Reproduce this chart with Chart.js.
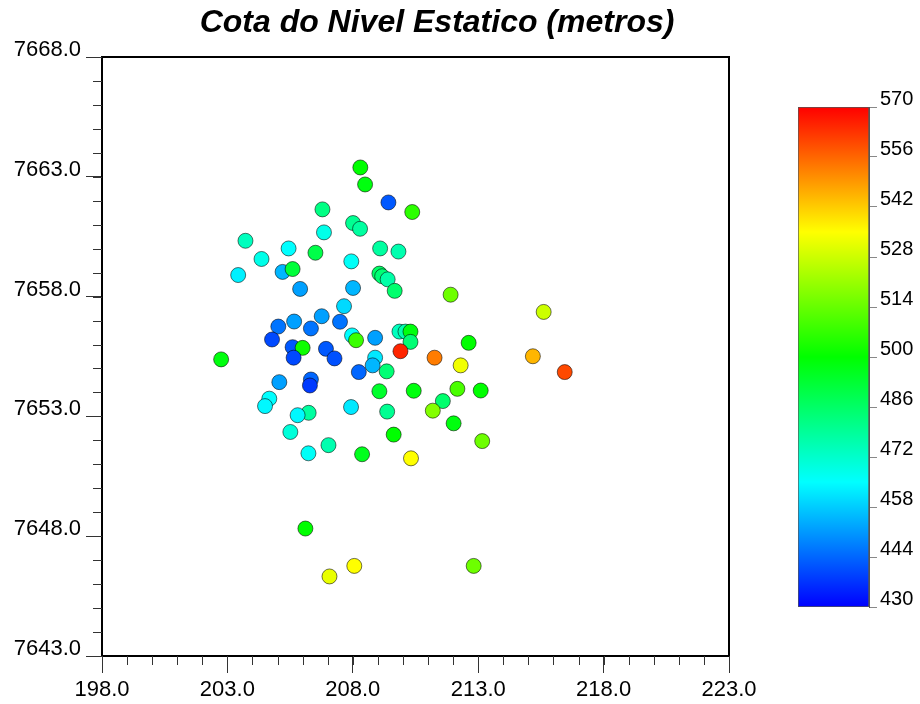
<!DOCTYPE html>
<html>
<head>
<meta charset="utf-8">
<script src="https://cdn.jsdelivr.net/npm/chart.js@4.4.1/dist/chart.umd.min.js"></script>
<style>
  html, body { margin: 0; padding: 0; background: #fff; }
  #wrap { position: relative; width: 920px; height: 704px; }
  #mapChart { position: absolute; left: 0; top: 0; }
  #scaleBar { position: absolute; left: 780px; top: 80px; }
</style>
</head>
<body>
<div id="wrap">
  <canvas id="mapChart" width="920" height="704"></canvas>
  <canvas id="scaleBar" width="140" height="560"></canvas>
</div>
<script>
// tick labels
var xTicks = [198, 203, 208, 213, 218, 223];
var yTicks = [7643, 7648, 7653, 7658, 7663, 7668];
var levelTicks = [430, 444, 458, 472, 486, 500, 514, 528, 542, 556, 570];

// wells: easting, northing (km) and water level (m)
var wellX = [208.30, 208.49, 209.42, 210.37, 206.79, 208.01, 208.29, 206.85, 203.72, 205.44,
             206.51, 204.36, 207.94, 209.09, 209.82, 203.43, 205.20, 205.60, 209.06, 209.17,
             209.39, 209.67, 205.90, 208.01, 211.90, 215.61, 207.65, 206.76, 207.49, 205.03,
             205.66, 206.33, 204.78, 207.97, 208.13, 208.89, 209.86, 210.10, 210.30, 210.30,
             205.60, 206.00, 205.64, 206.93, 207.27, 209.90, 211.26, 212.62, 212.30, 215.18,
             216.45, 202.75, 208.89, 208.79, 208.24, 209.35, 205.07, 206.33, 206.29, 209.06,
             210.43, 212.17, 213.10, 211.59, 204.67, 204.50, 211.19, 209.37, 207.93, 206.24,
             205.80, 212.02, 205.51, 209.63, 213.16, 207.03, 206.23, 208.37, 210.32, 206.11,
             208.06, 207.07, 212.82];
var wellY = [7663.39, 7662.68, 7661.93, 7661.53, 7661.64, 7661.07, 7660.83, 7660.68, 7660.33, 7660.01,
             7659.83, 7659.57, 7659.47, 7660.01, 7659.88, 7658.90, 7659.03, 7659.15, 7658.96, 7658.85,
             7658.72, 7658.24, 7658.32, 7658.36, 7658.08, 7657.36, 7657.60, 7657.18, 7656.95, 7656.75,
             7656.96, 7656.67, 7656.21, 7656.38, 7656.18, 7656.28, 7656.54, 7656.54, 7656.54, 7656.11,
             7655.89, 7655.86, 7655.45, 7655.82, 7655.42, 7655.72, 7655.45, 7656.07, 7655.13, 7655.51,
             7654.85, 7655.38, 7655.45, 7655.13, 7654.85, 7654.88, 7654.43, 7654.54, 7654.29, 7654.05,
             7654.07, 7654.15, 7654.08, 7653.64, 7653.74, 7653.43, 7653.24, 7653.20, 7653.39, 7653.15,
             7653.05, 7652.71, 7652.35, 7652.24, 7651.97, 7651.80, 7651.46, 7651.42, 7651.25, 7648.32,
             7646.76, 7646.32, 7646.76];
var wellLevel = [500, 498, 442, 506, 482, 480, 478, 468, 474, 465,
                 490, 468, 466, 478, 476, 463, 455, 492, 486, 484,
                 477, 485, 452, 455, 515, 528, 460, 452, 446, 446,
                 452, 446, 440, 465, 508, 452, 474, 476, 498, 484,
                 442, 502, 440, 442, 441, 565, 553, 500, 533, 545,
                 560, 498, 462, 455, 444, 484, 452, 444, 438, 494,
                 498, 510, 500, 485, 465, 464, 518, 480, 462, 478,
                 464, 498, 470, 500, 515, 476, 466, 496, 535, 500,
                 535, 532, 515];

var levelMin = levelTicks[0], levelMax = levelTicks[levelTicks.length - 1];

// rainbow: blue at the bottom of the scale, red at the top
function levelColor(v) {
  var t = (v - levelMin) / (levelMax - levelMin);
  t = Math.max(0, Math.min(1, t));
  return 'hsl(' + (240 * (1 - t)).toFixed(1) + ',100%,50%)';
}

Chart.defaults.font.family = "'Liberation Sans', Arial, sans-serif";
Chart.defaults.color = '#000';

// short ticks every 1 unit, the long labelled ones come from the axes
var minorTicks = {
  id: 'minorTicks',
  afterDraw: function (chart) {
    var ctx = chart.ctx, x = chart.scales.x, y = chart.scales.y, area = chart.chartArea;
    ctx.save();
    ctx.strokeStyle = '#333';
    ctx.lineWidth = 1;
    ctx.beginPath();
    for (var v = x.min; v <= x.max; v++) {
      var px = Math.round(x.getPixelForValue(v)) + 0.5;
      ctx.moveTo(px, area.bottom);
      ctx.lineTo(px, area.bottom + 9);
    }
    for (var w = y.min; w <= y.max; w++) {
      var py = Math.round(y.getPixelForValue(w)) + 0.5;
      ctx.moveTo(area.left, py);
      ctx.lineTo(area.left - 9, py);
    }
    ctx.stroke();
    ctx.restore();
  }
};

var points = wellX.map(function (x, i) { return { x: x, y: wellY[i] }; });

new Chart(document.getElementById('mapChart'), {
  type: 'scatter',
  data: {
    datasets: [{
      data: points,
      pointRadius: 7.5,
      pointBackgroundColor: wellLevel.map(levelColor),
      pointBorderColor: 'rgba(0,0,0,0.55)',
      pointBorderWidth: 1
    }]
  },
  options: {
    responsive: false,
    animation: false,
    layout: { padding: { left: 0, right: 46, top: 0, bottom: 0 } },
    plugins: {
      legend: { display: false },
      tooltip: { enabled: false },
      title: {
        display: true,
        text: 'Cota do Nivel Estatico (metros)',
        font: { size: 32, weight: 'bold', style: 'italic' },
        color: '#000',
        padding: { top: 4, bottom: 0 }
      }
    },
    scales: {
      x: {
        type: 'linear', position: 'bottom', min: 198, max: 223,
        afterBuildTicks: function (s) { s.ticks = xTicks.map(function (v) { return { value: v }; }); },
        afterFit: function (s) { s.height = 48; },
        ticks: { callback: function (v) { return v.toFixed(1); }, font: { size: 22 }, color: '#000', padding: 4, maxRotation: 0, autoSkip: false },
        grid: { drawOnChartArea: false, tickLength: 17, tickColor: '#333' },
        border: { color: '#000', width: 2 }
      },
      y: {
        type: 'linear', position: 'left', min: 7643, max: 7668,
        afterBuildTicks: function (s) { s.ticks = yTicks.map(function (v) { return { value: v }; }); },
        afterFit: function (s) { s.width = 102; },
        ticks: { callback: function (v) { return v.toFixed(1); }, font: { size: 22 }, color: '#000', padding: 5, labelOffset: -7, autoSkip: false },
        grid: { drawOnChartArea: false, tickLength: 16, tickColor: '#333' },
        border: { color: '#000', width: 2 }
      },
      xTop: {
        type: 'linear', axis: 'x', position: 'top', min: 198, max: 223,
        afterFit: function (s) { s.height = 14.6; },
        ticks: { display: false },
        grid: { drawOnChartArea: false, drawTicks: false },
        border: { color: '#000', width: 2 }
      },
      yRight: {
        type: 'linear', axis: 'y', position: 'right', min: 7643, max: 7668,
        afterFit: function (s) { s.width = 145; },
        ticks: { display: false },
        grid: { drawOnChartArea: false, drawTicks: false },
        border: { color: '#000', width: 2 }
      }
    }
  },
  plugins: [minorTicks]
});

// colour scale
new Chart(document.getElementById('scaleBar'), {
  type: 'bar',
  data: {
    labels: [''],
    datasets: [{
      data: [[levelMin, levelMax]],
      backgroundColor: function (c) {
        var area = c.chart.chartArea;
        if (!area) return 'transparent';
        var g = c.chart.ctx.createLinearGradient(0, area.bottom, 0, area.top);
        for (var i = 0; i <= 24; i++) {
          var v = levelMin + (levelMax - levelMin) * i / 24;
          g.addColorStop(i / 24, levelColor(v));
        }
        return g;
      },
      borderColor: '#555',
      borderWidth: 1,
      borderSkipped: false,
      barPercentage: 1,
      categoryPercentage: 1
    }]
  },
  options: {
    responsive: false,
    animation: false,
    layout: { padding: { left: 18, right: 0, top: 27, bottom: 33 } },
    plugins: { legend: { display: false }, tooltip: { enabled: false } },
    scales: {
      x: { display: false },
      y: {
        position: 'right', min: levelMin, max: levelMax,
        afterBuildTicks: function (s) { s.ticks = levelTicks.map(function (v) { return { value: v }; }); },
        afterFit: function (s) { s.width = 51; },
        ticks: { font: { size: 20 }, color: '#000', padding: 3, labelOffset: -8, autoSkip: false },
        grid: { drawOnChartArea: false, tickLength: 8, tickColor: '#888' },
        border: { color: '#555', width: 1 }
      }
    }
  }
});
</script>
</body>
</html>
